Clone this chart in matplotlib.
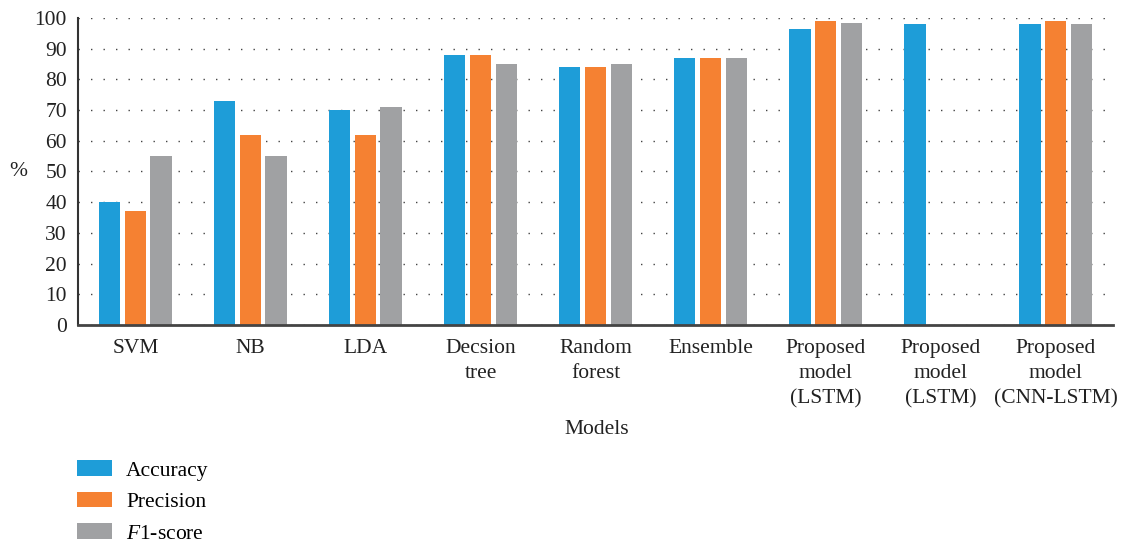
import matplotlib
matplotlib.use("Agg")
import matplotlib.pyplot as plt
import numpy as np
from matplotlib.patches import Patch

plt.rcParams['font.family'] = ['Liberation Serif', 'DejaVu Serif']
plt.rcParams['mathtext.fontset'] = 'custom'
plt.rcParams['mathtext.it'] = 'Liberation Serif:italic'
plt.rcParams['mathtext.rm'] = 'Liberation Serif'

models = ["SVM", "NB", "LDA", "Decsion\ntree", "Random\nforest", "Ensemble",
          "Proposed\nmodel\n(LSTM)", "Proposed\nmodel\n(LSTM)", "Proposed\nmodel\n(CNN-LSTM)"]
accuracy = [40, 73, 70, 88, 84, 87, 96.5, 98, 98]
precision = [37, 62, 62, 88, 84, 87, 99, np.nan, 99]
f1_score = [55, 55, 71, 85, 85, 87, 98.5, np.nan, 98]
series_names = ["Accuracy", "Precision", "$\\it{F}$1-score"]
colors = ["#1E9DD8", "#F58132", "#A0A1A3"]

fig = plt.figure(figsize=(11.22, 5.43), dpi=100)
ax = fig.add_axes([0.0695, 0.4015, 0.9225, 0.5654])

x = np.arange(len(models))
width = 0.183
offset = 0.222
for i, (vals, c) in enumerate(zip([accuracy, precision, f1_score], colors)):
    ax.bar(x + (i - 1) * offset, vals, width=width, color=c, zorder=3)

ax.set_xlim(-0.5, len(models) - 0.5)
ax.set_ylim(0, 100)
ax.set_yticks(np.arange(0, 101, 10))
ax.yaxis.grid(True, linestyle=(0, (1, 8)), linewidth=1.0, color="#444444", zorder=0)
ax.set_axisbelow(True)

ax.set_xticks(x)
ax.set_xticklabels(models, fontsize=15.5, linespacing=1.45, color="#222222")
ax.tick_params(axis="x", length=0, pad=10)
ax.tick_params(axis="y", length=0, pad=8, labelsize=15.5, labelcolor="#222222")

for s in ["top", "right"]:
    ax.spines[s].set_visible(False)
ax.spines["left"].set_color("#333333")
ax.spines["left"].set_linewidth(1.5)
ax.spines["bottom"].set_color("#444444")
ax.spines["bottom"].set_linewidth(2)
ax.spines["bottom"].set_zorder(4)

fig.text(18 / 1122, 1 - 171 / 543, "%", fontsize=15.5, ha="center", va="center", color="#222222")
fig.text(597 / 1122, 1 - 430 / 543, "Models", fontsize=15.5, ha="center", va="center", color="#222222")

handles = [Patch(facecolor=c, edgecolor="none") for c in colors]
fig.legend(handles, series_names, loc="upper left", bbox_to_anchor=(60 / 1122, 1 - 443 / 543),
           frameon=False, fontsize=15.5, handlelength=1.62, handleheight=0.74,
           labelspacing=0.52, handletextpad=0.65, borderpad=0.3)

fig.savefig("out.png", dpi=100)
